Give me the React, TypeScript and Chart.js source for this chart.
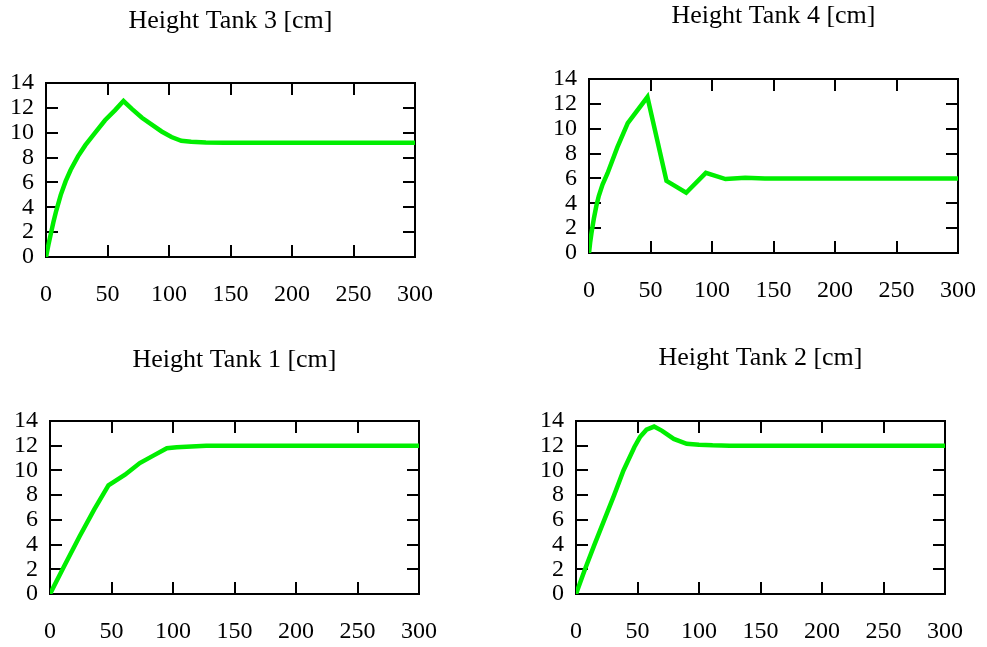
import { useEffect, useRef } from "react";
import { Chart, registerables } from "chart.js";

Chart.register(...registerables);

// Simulated tank levels over time (s), one series per tank
const tank3Time = [0, 2, 4, 6, 8, 12, 16, 20, 26, 32, 40, 48, 56, 63, 70, 78, 86, 94, 102, 110, 118, 130, 145, 300];
const tank3Level = [0, 1.0, 1.9, 2.8, 3.6, 5.0, 6.1, 7.0, 8.1, 9.0, 10.0, 11.0, 11.8, 12.55, 11.9, 11.2, 10.65, 10.1, 9.65, 9.35, 9.28, 9.22, 9.2, 9.2];

const tank4Time = [0, 1, 2, 3, 4, 6, 8, 11, 15, 23, 31.5, 47.5, 63, 79, 95, 111, 127, 143, 300];
const tank4Level = [0, 0.9, 1.6, 2.2, 2.8, 3.8, 4.6, 5.5, 6.4, 8.5, 10.45, 12.55, 5.8, 4.85, 6.45, 5.95, 6.05, 6.0, 6.0];

const tank1Time = [0, 12, 24, 36, 47.5, 61, 73, 84, 95, 103, 115, 127, 300];
const tank1Level = [0, 2.35, 4.65, 6.85, 8.8, 9.65, 10.6, 11.2, 11.8, 11.87, 11.93, 12.0, 12.0];

const tank2Time = [0, 7.3, 15, 23, 31, 38.6, 47.5, 52, 57.3, 63.5, 70, 79.5, 90, 100, 111, 125, 300];
const tank2Level = [0, 2, 4, 6, 8, 10, 11.9, 12.7, 13.3, 13.55, 13.2, 12.55, 12.15, 12.08, 12.03, 12.0, 12.0];

const xTickValues = [0, 50, 100, 150, 200, 250, 300];
const yTickValues = [0, 2, 4, 6, 8, 10, 12, 14];

const FONT_FAMILY = "'Liberation Serif', 'Times New Roman', Times, serif";
const LINE_COLOR = "rgb(0, 238, 0)";

type PanelSpec = {
  title: string;
  time: number[];
  level: number[];
  canvas: { left: number; top: number; width: number; height: number };
  plot: { left: number; top: number; right: number; bottom: number };
  titleY: number;
};

const TICK_FONT = 24;
const TITLE_FONT = 26;
const LINE_H = 1.2;
const X_LABEL_OFFSET = 38; // axis line to x tick label centre

// Box outline plus inward tick marks on all four sides
const framePlugin = {
  id: "frameTicks",
  beforeDatasetsDraw(chart: any) {
    const { ctx, chartArea } = chart;
    const { left, right, top, bottom } = chartArea;
    const xs = chart.scales.x;
    const ys = chart.scales.y;
    const len = 12;
    ctx.save();
    ctx.strokeStyle = "#000";
    ctx.lineWidth = 2;
    ctx.beginPath();
    for (const v of xTickValues) {
      const px = Math.round(xs.getPixelForValue(v));
      ctx.moveTo(px, bottom);
      ctx.lineTo(px, bottom - len);
      ctx.moveTo(px, top);
      ctx.lineTo(px, top + len);
    }
    for (const v of yTickValues) {
      const py = Math.round(ys.getPixelForValue(v));
      ctx.moveTo(left, py);
      ctx.lineTo(left + len, py);
      ctx.moveTo(right, py);
      ctx.lineTo(right - len, py);
    }
    ctx.stroke();
    ctx.strokeRect(left, top, right - left, bottom - top);
    ctx.restore();
  },
};

function Panel({ spec }: { spec: PanelSpec }) {
  const ref = useRef<HTMLCanvasElement | null>(null);

  useEffect(() => {
    const canvas = ref.current;
    if (!canvas) return;
    const { canvas: c, plot, titleY } = spec;
    const yAxisWidth = plot.left - c.left;
    const padRight = c.left + c.width - plot.right;
    const xAxisHeight = c.top + c.height - plot.bottom;
    const titleLine = TITLE_FONT * LINE_H;
    const titlePadTop = titleY - c.top - titleLine / 2;
    const titlePadBottom = plot.top - c.top - titleLine - titlePadTop;
    const tickLine = TICK_FONT * LINE_H;

    const chart = new Chart(canvas, {
      type: "line",
      data: {
        datasets: [
          {
            data: spec.time.map((t, i) => ({ x: t, y: spec.level[i] })),
            borderColor: LINE_COLOR,
            borderWidth: 4.5,
            pointRadius: 0,
            tension: 0,
            fill: false,
          },
        ],
      },
      options: {
        animation: false,
        responsive: false,
        devicePixelRatio: 1,
        events: [],
        layout: { padding: { left: 0, top: 0, right: padRight, bottom: 0 } },
        plugins: {
          legend: { display: false },
          tooltip: { enabled: false },
          title: {
            display: true,
            text: spec.title,
            fullSize: false,
            color: "#000",
            font: { family: FONT_FAMILY, size: TITLE_FONT, weight: "normal", lineHeight: LINE_H },
            padding: { top: titlePadTop, bottom: titlePadBottom },
          },
        },
        scales: {
          x: {
            type: "linear",
            min: 0,
            max: 300,
            afterBuildTicks: (s: any) => {
              s.ticks = xTickValues.map((v) => ({ value: v }));
            },
            afterFit: (s: any) => {
              s.height = xAxisHeight;
            },
            // invisible outer tick marks only push the labels down
            grid: {
              display: true,
              drawOnChartArea: false,
              drawTicks: true,
              tickLength: X_LABEL_OFFSET - tickLine / 2,
              tickColor: "rgba(0,0,0,0)",
            },
            border: { display: false },
            ticks: {
              autoSkip: false,
              maxRotation: 0,
              minRotation: 0,
              padding: 0,
              color: "#000",
              font: { family: FONT_FAMILY, size: TICK_FONT, lineHeight: LINE_H },
            },
          },
          y: {
            type: "linear",
            min: 0,
            max: 14,
            afterBuildTicks: (s: any) => {
              s.ticks = yTickValues.map((v) => ({ value: v }));
            },
            afterFit: (s: any) => {
              s.width = yAxisWidth;
            },
            grid: { display: false, drawTicks: false },
            border: { display: false },
            ticks: {
              autoSkip: false,
              padding: 12,
              color: "#000",
              font: { family: FONT_FAMILY, size: TICK_FONT, lineHeight: LINE_H },
            },
          },
        },
      },
      plugins: [framePlugin],
    });
    return () => chart.destroy();
  }, [spec]);

  const c = spec.canvas;
  return (
    <canvas
      ref={ref}
      width={c.width}
      height={c.height}
      style={{ position: "absolute", left: c.left, top: c.top, width: c.width, height: c.height }}
    />
  );
}

const panels: PanelSpec[] = [
  {
    title: "Height Tank 3 [cm]",
    time: tank3Time,
    level: tank3Level,
    canvas: { left: 0, top: 0, width: 493, height: 323 },
    plot: { left: 46, top: 83, right: 415, bottom: 257 },
    titleY: 21,
  },
  {
    title: "Height Tank 4 [cm]",
    time: tank4Time,
    level: tank4Level,
    canvas: { left: 493, top: 0, width: 494, height: 323 },
    plot: { left: 589, top: 79, right: 958, bottom: 253 },
    titleY: 16,
  },
  {
    title: "Height Tank 1 [cm]",
    time: tank1Time,
    level: tank1Level,
    canvas: { left: 0, top: 323, width: 493, height: 324 },
    plot: { left: 50, top: 421, right: 419, bottom: 594 },
    titleY: 360,
  },
  {
    title: "Height Tank 2 [cm]",
    time: tank2Time,
    level: tank2Level,
    canvas: { left: 493, top: 323, width: 494, height: 324 },
    plot: { left: 576, top: 421, right: 945, bottom: 594 },
    titleY: 358,
  },
];

export default function App() {
  return (
    <div
      style={{
        position: "absolute",
        left: 0,
        top: 0,
        width: 987,
        height: 647,
        background: "#fff",
        overflow: "hidden",
      }}
    >
      {panels.map((p) => (
        <Panel key={p.title} spec={p} />
      ))}
    </div>
  );
}
